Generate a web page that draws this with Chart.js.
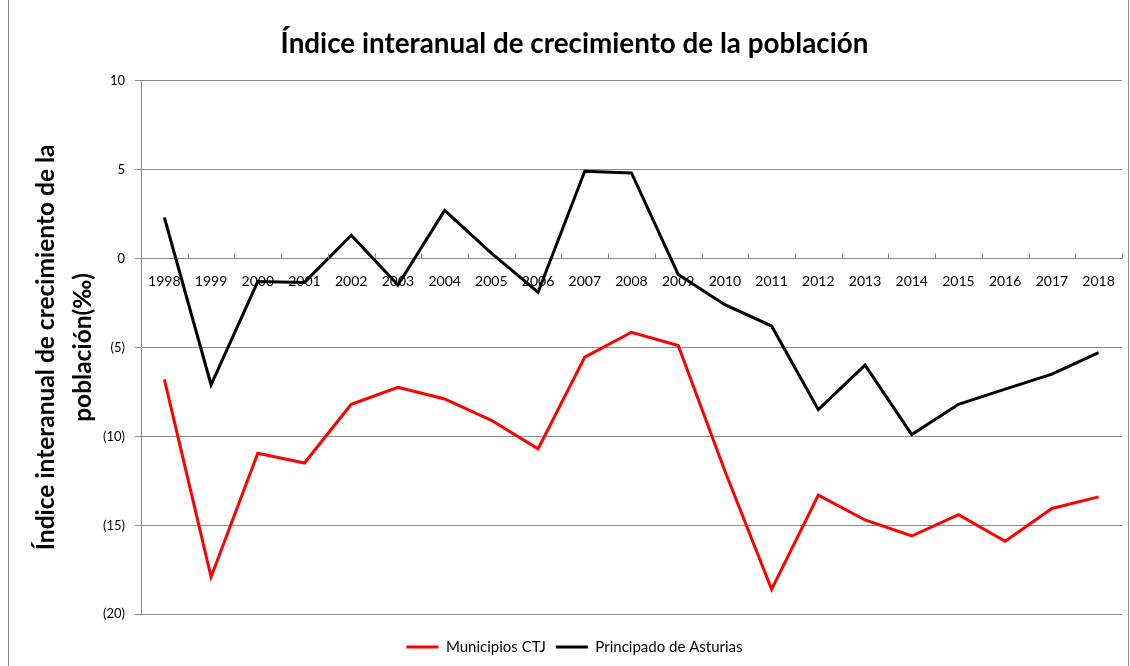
<!DOCTYPE html>
<html>
<head>
<meta charset="utf-8">
<script src="https://cdn.jsdelivr.net/npm/chart.js@4"></script>
<style>
  html, body { margin: 0; padding: 0; background: #fff; }
  #wrap { width: 1130px; height: 666px; position: relative; }
</style>
</head>
<body>
<div id="wrap"><canvas id="c" width="1130" height="666"></canvas></div>
<script>
const years = ['1998','1999','2000','2001','2002','2003','2004','2005','2006','2007','2008','2009','2010','2011','2012','2013','2014','2015','2016','2017','2018'];
const municipiosCTJ = [-6.8, -17.9, -10.95, -11.5, -8.2, -7.25, -7.9, -9.1, -10.7, -5.55, -4.15, -4.9, -11.95, -18.6, -13.3, -14.7, -15.6, -14.4, -15.9, -14.05, -13.4];
const principadoAsturias = [2.3, -7.1, -1.3, -1.35, 1.3, -1.5, 2.7, 0.3, -1.9, 4.9, 4.8, -0.9, -2.6, -3.8, -8.5, -6.0, -9.9, -8.2, -7.35, -6.5, -5.3];
const yTicks = [-20, -15, -10, -5, 0, 5, 10];
const titleText = 'Índice interanual de crecimiento de la población';
const yTitle = ['Índice interanual de crecimiento de la', 'población(‰)'];

const FONT = 'Lato, "Open Sans", sans-serif';
const GRID = '#8a8a8a';

const frame = {
  id: 'frame',
  beforeDraw(chart) {
    const ctx = chart.ctx;
    ctx.save();
    ctx.fillStyle = '#fff';
    ctx.fillRect(0, 0, chart.width, chart.height);
    ctx.strokeStyle = GRID;
    ctx.lineWidth = 1;
    ctx.strokeRect(8.5, -1, chart.width - 10, chart.height + 2);
    ctx.restore();
  }
};

// category boundary tick marks pointing upward from the zero line
const upTicks = {
  id: 'upTicks',
  afterDatasetsDraw(chart) {
    const xs = chart.scales.x, ys = chart.scales.y;
    const y0 = Math.round(ys.getPixelForValue(0)) + 0.5;
    const ctx = chart.ctx;
    ctx.save();
    ctx.strokeStyle = GRID;
    ctx.lineWidth = 1;
    ctx.beginPath();
    for (let i = 1; i <= years.length; i++) {
      const x = Math.round(xs.getPixelForValue(i - 0.5)) + 0.5;
      ctx.moveTo(x, y0);
      ctx.lineTo(x, y0 - 5);
    }
    ctx.stroke();
    ctx.restore();
  }
};

new Chart(document.getElementById('c'), {
  type: 'line',
  data: {
    labels: years,
    datasets: [
      { label: 'Municipios CTJ', data: municipiosCTJ, borderColor: '#ff0000', backgroundColor: '#ff0000', borderWidth: 3, pointRadius: 0, tension: 0 },
      { label: 'Principado de Asturias', data: principadoAsturias, borderColor: '#000000', backgroundColor: '#000000', borderWidth: 3, pointRadius: 0, tension: 0 }
    ]
  },
  options: {
    responsive: false,
    animation: false,
    devicePixelRatio: 1,
    layout: { padding: { left: 26, right: 7, top: 0, bottom: 1.5 } },
    plugins: {
      title: {
        display: true,
        text: titleText,
        color: '#000',
        font: { family: FONT, size: 27.8, weight: 'bold' },
        padding: { top: 27.5, bottom: 19.6 }
      },
      subtitle: {
        display: true,
        text: ' ',
        position: 'bottom',
        weight: 500,
        font: { size: 1 },
        padding: { top: 0, bottom: 14 }
      },
      legend: {
        position: 'bottom',
        labels: {
          usePointStyle: true,
          pointStyle: 'line',
          pointStyleWidth: 32,
          color: '#000',
          font: { family: FONT, size: 15 },
          padding: 10
        }
      },
      tooltip: { enabled: false }
    },
    scales: {
      x: {
        position: { y: 0 },
        offset: true,
        grid: { display: true, drawOnChartArea: false, drawTicks: false, offset: true, color: GRID },
        border: { color: GRID, width: 1 },
        ticks: { color: '#000', font: { family: FONT, size: 14 }, maxRotation: 0, autoSkip: false, padding: 15 }
      },
      y: {
        min: -20,
        max: 10,
        afterBuildTicks(scale) { scale.ticks = yTicks.map(v => ({ value: v })); },
        afterFit(scale) { scale.width = 115; },
        grid: { color: GRID, tickLength: 6 },
        border: { color: GRID, width: 1 },
        ticks: {
          color: '#000',
          font: { family: FONT, size: 13 },
          padding: 10,
          callback: v => v < 0 ? '(' + Math.abs(v) + ')' : String(v)
        },
        title: {
          display: true,
          text: yTitle,
          color: '#000',
          font: { family: FONT, size: 24.5, weight: 'bold', lineHeight: 1.5 },
          padding: { top: 2, bottom: 0 }
        }
      }
    }
  },
  plugins: [frame, upTicks]
});
</script>
</body>
</html>
